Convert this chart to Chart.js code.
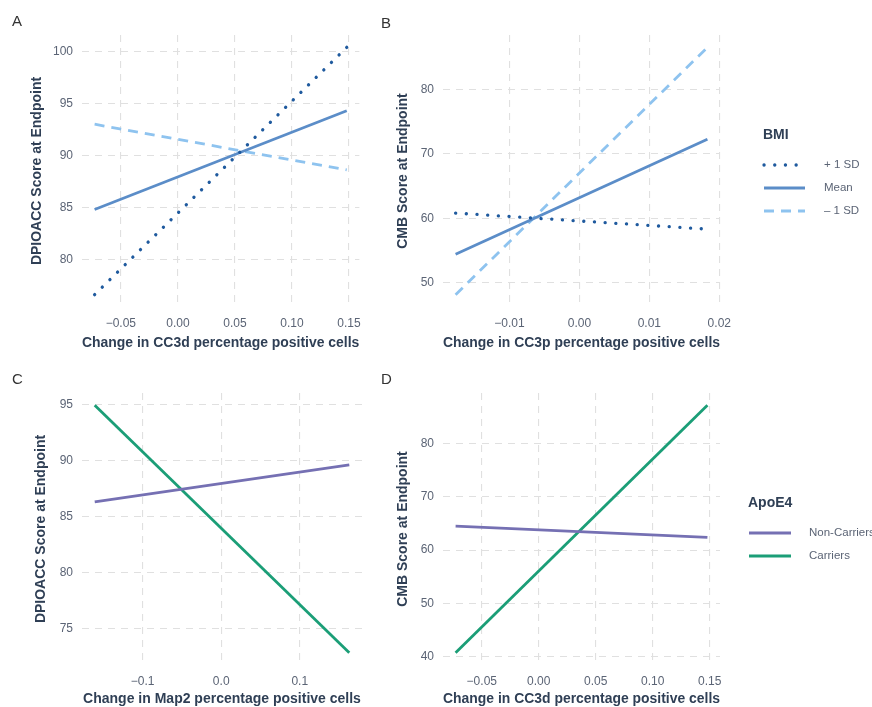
<!DOCTYPE html>
<html>
<head>
<meta charset="utf-8">
<script src="https://cdn.jsdelivr.net/npm/chart.js@4"></script>
<style>
  body { margin: 0; background: #fff; }
  #wrap { position: relative; width: 872px; height: 707px; overflow: hidden; font-family: "Liberation Sans", Arial, sans-serif; }
  canvas { position: absolute; }
  .tag { position: absolute; font-size: 15px; color: #333; }
</style>
</head>
<body>
<div id="wrap">
  <canvas id="cA" style="left:0;top:0"></canvas>
  <canvas id="cB" style="left:370px;top:0"></canvas>
  <canvas id="cC" style="left:0;top:356px"></canvas>
  <canvas id="cD" style="left:370px;top:356px"></canvas>
  <div class="tag" style="left:12px;top:12px">A</div>
  <div class="tag" style="left:381px;top:14px">B</div>
  <div class="tag" style="left:12px;top:370px">C</div>
  <div class="tag" style="left:381px;top:370px">D</div>
</div>
<script>
// ================== DATA ==================
// x end points of each fitted line
const xRangeCC3d = [-0.073, 0.148];
const xRangeCC3p = [-0.0177, 0.0183];
const xRangeMap2 = [-0.161, 0.163];

// panel A: DPIOACC vs CC3d by BMI
const aPlus  = [76.6, 100.4];
const aMean  = [84.8, 94.3];
const aMinus = [93.0, 88.6];

// panel B: CMB vs CC3p by BMI
const bPlus  = [60.8, 58.3];
const bMean  = [54.4, 72.3];
const bMinus = [48.1, 86.6];

// panel C: DPIOACC vs Map2 by ApoE4
const cNon = [86.3, 89.6];
const cCar = [94.9, 72.85];

// panel D: CMB vs CC3d by ApoE4
const dNon = [64.5, 62.4];
const dCar = [40.8, 87.1];

const bmiLabels  = ["+ 1 SD", "Mean", "\u2013 1 SD"];
const apoeLabels = ["Non-Carriers", "Carriers"];

// tick values
const xTicksA = [-0.05, 0, 0.05, 0.10, 0.15];
const yTicksA = [80, 85, 90, 95, 100];
const xTicksB = [-0.01, 0, 0.01, 0.02];
const yTicksB = [50, 60, 70, 80];
const xTicksC = [-0.1, 0, 0.1];
const yTicksC = [75, 80, 85, 90, 95];
const xTicksD = [-0.05, 0, 0.05, 0.10, 0.15];
const yTicksD = [40, 50, 60, 70, 80];

// ================== STYLE ==================
const FONT = "'Liberation Sans', Arial, sans-serif";
const TICK_COLOR = "#5b6475";
const TITLE_COLOR = "#2f3f55";
const GRID = "#e0e0e0";

const styleBMI = [
    { color: "#1f5a9e", dash: [0.1, 10.6], cap: "round", width: 3.3 },
    { color: "#5b8dc8", dash: [], cap: "butt", width: 2.8 },
    { color: "#8ec3ef", dash: [10, 7], cap: "butt", width: 2.8 }
];
const styleApoE = [
    { color: "#7570b3", dash: [], cap: "butt", width: 2.8 },
    { color: "#1b9e77", dash: [], cap: "butt", width: 2.8 }
];

function fmt(v, digits) {
    let s = Math.abs(v).toFixed(digits);
    return v < 0 ? "\u2212" + s : s;
}

// ggplot style 5% expansion of the data range
function expand(arrs) {
    let all = [].concat(...arrs);
    let lo = Math.min(...all), hi = Math.max(...all);
    let pad = (hi - lo) * 0.05;
    return [lo - pad, hi + pad];
}

function makeSet(label, xr, ys, st) {
    return {
        label: label,
        data: [{ x: xr[0], y: ys[0] }, { x: xr[1], y: ys[1] }],
        showLine: true,
        pointRadius: 0,
        borderColor: st.color,
        backgroundColor: st.color,
        borderWidth: st.width,
        borderDash: st.dash,
        borderCapStyle: st.cap,
        fill: false
    };
}

// legend drawn on the right side of the canvas
const sideLegend = {
    id: "sideLegend",
    afterDraw(chart, args, opts) {
        if (!opts.title) return;
        const ctx = chart.ctx;
        ctx.save();
        ctx.fillStyle = TITLE_COLOR;
        ctx.font = "bold 14px " + FONT;
        ctx.textBaseline = "middle";
        ctx.fillText(opts.title, opts.x, opts.y);
        chart.data.datasets.forEach((ds, i) => {
            let yy = opts.y + opts.first + i * opts.step;
            ctx.beginPath();
            ctx.strokeStyle = ds.borderColor;
            ctx.lineWidth = ds.borderWidth;
            ctx.lineCap = ds.borderCapStyle;
            ctx.setLineDash(ds.borderDash);
            ctx.moveTo(opts.x + 1, yy);
            ctx.lineTo(opts.x + opts.len, yy);
            ctx.stroke();
            ctx.setLineDash([]);
            ctx.fillStyle = TICK_COLOR;
            ctx.font = "11.5px " + FONT;
            ctx.fillText(ds.label, opts.x + opts.textX, yy);
        });
        ctx.restore();
    }
};

function makeChart(id, w, h, area, cfg) {
    const el = document.getElementById(id);
    el.width = w;
    el.height = h;
    el.style.width = w + "px";
    el.style.height = h + "px";

    let yr = expand(cfg.datasets.map(d => d.data.map(p => p.y)));
    let xr = expand(cfg.datasets.map(d => d.data.map(p => p.x)));

    return new Chart(el, {
        type: "scatter",
        data: { datasets: cfg.datasets },
        options: {
            responsive: false,
            animation: false,
            layout: { padding: { top: area.top, right: w - area.right, left: 0, bottom: 0 } },
            plugins: {
                legend: { display: false },
                tooltip: { enabled: false },
                sideLegend: cfg.legend || {}
            },
            scales: {
                x: {
                    type: "linear",
                    min: xr[0], max: xr[1],
                    afterBuildTicks: s => { s.ticks = cfg.xTicks.map(v => ({ value: v })); },
                    afterFit: s => { s.height = h - area.bottom; },
                    border: { display: false, dash: [7, 6] },
                    grid: { color: GRID, lineWidth: 1.1, drawTicks: false },
                    ticks: {
                        padding: 9,
                        color: TICK_COLOR,
                        font: { family: FONT, size: 12 },
                        maxRotation: 0,
                        callback: v => fmt(v, cfg.xDigits)
                    },
                    title: {
                        display: true,
                        text: cfg.xTitle,
                        color: TITLE_COLOR,
                        font: { family: FONT, size: 14, weight: "bold", lineHeight: 1 },
                        padding: cfg.xTitlePad
                    }
                },
                y: {
                    type: "linear",
                    min: yr[0], max: yr[1],
                    afterBuildTicks: s => { s.ticks = cfg.yTicks.map(v => ({ value: v })); },
                    afterFit: s => { s.width = area.left; },
                    border: { display: false, dash: [7, 6] },
                    grid: { color: GRID, lineWidth: 1.1, drawTicks: false },
                    ticks: {
                        padding: 9,
                        color: TICK_COLOR,
                        font: { family: FONT, size: 12 },
                        callback: v => String(v)
                    },
                    title: {
                        display: true,
                        text: cfg.yTitle,
                        color: TITLE_COLOR,
                        font: { family: FONT, size: 14, weight: "bold", lineHeight: 1 },
                        padding: cfg.yTitlePad
                    }
                }
            }
        },
        plugins: [sideLegend]
    });
}

Chart.defaults.font.family = FONT;

makeChart("cA", 370, 356, { left: 82, right: 362, top: 35, bottom: 307 }, {
    datasets: [
        makeSet(bmiLabels[0], xRangeCC3d, aPlus, styleBMI[0]),
        makeSet(bmiLabels[1], xRangeCC3d, aMean, styleBMI[1]),
        makeSet(bmiLabels[2], xRangeCC3d, aMinus, styleBMI[2])
    ],
    xTicks: xTicksA, yTicks: yTicksA, xDigits: 2,
    xTitle: "Change in CC3d percentage positive cells",
    yTitle: "DPIOACC Score at Endpoint",
    xTitlePad: 6, yTitlePad: 30
});

makeChart("cB", 502, 356, { left: 73, right: 350, top: 35, bottom: 307 }, {
    datasets: [
        makeSet(bmiLabels[0], xRangeCC3p, bPlus, styleBMI[0]),
        makeSet(bmiLabels[1], xRangeCC3p, bMean, styleBMI[1]),
        makeSet(bmiLabels[2], xRangeCC3p, bMinus, styleBMI[2])
    ],
    xTicks: xTicksB, yTicks: yTicksB, xDigits: 2,
    xTitle: "Change in CC3p percentage positive cells",
    yTitle: "CMB Score at Endpoint",
    xTitlePad: 6, yTitlePad: 26,
    legend: { title: "BMI", x: 393, y: 135, first: 30, step: 23, len: 42, textX: 61 }
});

makeChart("cC", 370, 351, { left: 82, right: 362, top: 37, bottom: 309 }, {
    datasets: [
        makeSet(apoeLabels[0], xRangeMap2, cNon, styleApoE[0]),
        makeSet(apoeLabels[1], xRangeMap2, cCar, styleApoE[1])
    ],
    xTicks: xTicksC, yTicks: yTicksC, xDigits: 1,
    xTitle: "Change in Map2 percentage positive cells",
    yTitle: "DPIOACC Score at Endpoint",
    xTitlePad: 0.5, yTitlePad: 34
});

makeChart("cD", 502, 351, { left: 73, right: 350, top: 37, bottom: 309 }, {
    datasets: [
        makeSet(apoeLabels[0], xRangeCC3d, dNon, styleApoE[0]),
        makeSet(apoeLabels[1], xRangeCC3d, dCar, styleApoE[1])
    ],
    xTicks: xTicksD, yTicks: yTicksD, xDigits: 2,
    xTitle: "Change in CC3d percentage positive cells",
    yTitle: "CMB Score at Endpoint",
    xTitlePad: 0.5, yTitlePad: 26,
    legend: { title: "ApoE4", x: 378, y: 147, first: 30, step: 23, len: 43, textX: 61 }
});
</script>
</body>
</html>
